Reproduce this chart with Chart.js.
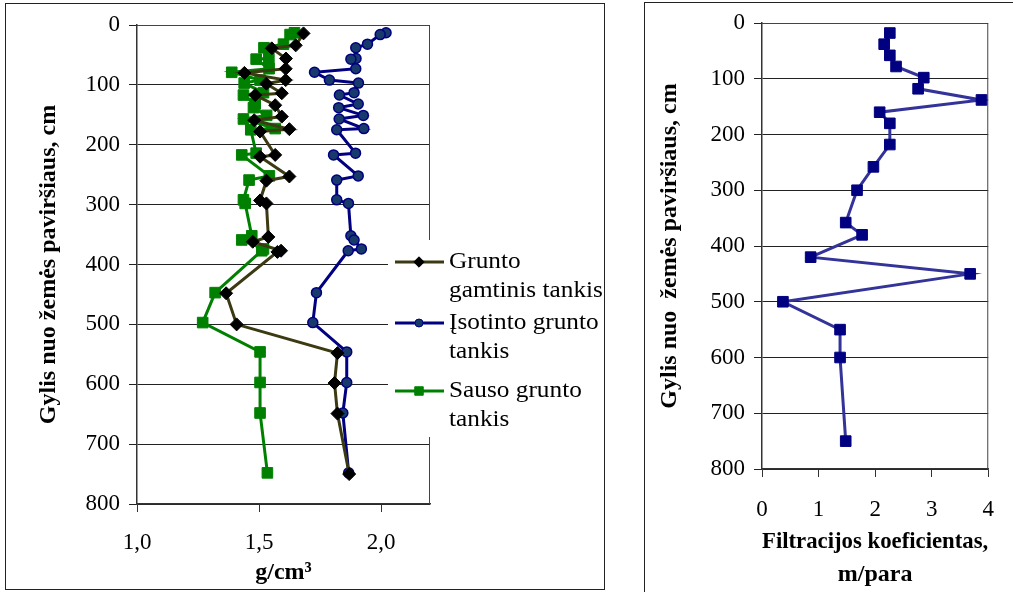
<!DOCTYPE html>
<html>
<head>
<meta charset="utf-8">
<script src="https://cdn.jsdelivr.net/npm/chart.js@4.4.1/dist/chart.umd.min.js"></script>
<style>
  body { margin: 0; background: #fff; width: 1013px; height: 592px; overflow: hidden; position: relative; }
  canvas { position: absolute; top: 0; }
  .frame { position: absolute; border: 1px solid #222; box-sizing: border-box; }
</style>
</head>
<body>
<div class="frame" style="left:5px;top:3px;width:600px;height:587px"></div>
<div class="frame" style="left:644px;top:2px;width:400px;height:600px"></div>
<canvas id="density" width="610" height="592" style="left:0"></canvas>
<canvas id="filtration" width="403" height="592" style="left:610px"></canvas>
<script>
const serif = "'Liberation Serif', 'Times New Roman', serif";
Chart.defaults.font.family = serif;
Chart.defaults.font.size = 23;
Chart.defaults.color = '#000';

// gylis, cm (isotinto ir sauso grunto meginiai)
const sampleDepth = [13, 16, 32, 38, 56, 57, 73, 79, 92, 97, 113, 117, 132, 138, 151, 157, 173, 175,
                     214, 217, 252, 259, 292, 298, 352, 359, 374, 377, 447, 497, 546, 597, 648, 748];
const saturatedDensity = [2.02, 1.996, 1.944, 1.896, 1.897, 1.876, 1.896, 1.727, 1.788, 1.907, 1.889, 1.829,
                          1.906, 1.826, 1.927, 1.828, 1.929, 1.818, 1.895, 1.805, 1.906, 1.818, 1.818, 1.866,
                          1.876, 1.889, 1.919, 1.865, 1.735, 1.72, 1.859, 1.859, 1.843, 1.867];
const dryDensity = [1.645, 1.627, 1.6, 1.52, 1.54, 1.488, 1.541, 1.388, 1.504, 1.439, 1.518, 1.436,
                    1.484, 1.477, 1.531, 1.436, 1.566, 1.466, 1.488, 1.429, 1.542, 1.459, 1.436, 1.443,
                    1.47, 1.429, 1.518, 1.511, 1.32, 1.269, 1.504, 1.504, 1.504, 1.534];

// gamtinis tankis
const naturalDepth = [14, 34, 39, 56, 73, 80, 92, 98, 114, 117, 134, 153, 159, 174, 178, 217, 220,
                      253, 260, 293, 298, 354, 362, 377, 379, 448, 500, 548, 598, 649, 750];
const naturalDensity = [1.682, 1.65, 1.552, 1.61, 1.609, 1.44, 1.609, 1.53, 1.593, 1.484, 1.566, 1.593,
                        1.48, 1.624, 1.504, 1.566, 1.504, 1.624, 1.53, 1.504, 1.53, 1.538, 1.474, 1.59,
                        1.575, 1.365, 1.408, 1.821, 1.809, 1.821, 1.869];

// filtracijos koeficientas, m/para
const filtDepth = [18, 38, 58, 78, 98, 118, 138, 160, 180, 218, 258, 300, 358, 380, 420, 450, 500, 550, 600, 750];
const filtCoef = [2.26, 2.16, 2.26, 2.37, 2.86, 2.76, 3.88, 2.08, 2.26, 2.26, 1.97, 1.68, 1.48, 1.77,
                  0.86, 3.68, 0.37, 1.38, 1.38, 1.48];

const densityTicks = [1.0, 1.5, 2.0];
const depthTicks = [0, 100, 200, 300, 400, 500, 600, 700, 800];
const filtTicks = [0, 1, 2, 3, 4];

const legendLines = [['Grunto', 'gamtinis tankis'], ['Įsotinto grunto', 'tankis'], ['Sauso grunto', 'tankis']];

const pairs = (xs, ys) => xs.map((x, i) => ({ x, y: ys[i] }));
const fixTicks = (list) => (s) => { s.ticks = list.map(v => ({ value: v })); };

// top and right edges of the plot area
const plotFrame = {
    id: 'plotFrame',
    beforeDatasetsDraw(chart) {
        const { ctx, chartArea: a } = chart;
        ctx.save();
        ctx.strokeStyle = '#444';
        ctx.lineWidth = 1;
        ctx.beginPath();
        ctx.moveTo(a.left, a.top + 0.5);
        ctx.lineTo(a.right - 0.5, a.top + 0.5);
        ctx.lineTo(a.right - 0.5, a.bottom);
        ctx.stroke();
        ctx.restore();
    }
};

// legend box sitting over the right side of the plot
const sideLegend = {
    id: 'sideLegend',
    afterDraw(chart) {
        const ctx = chart.ctx;
        const rowY = [262, 323, 391];
        ctx.save();
        ctx.fillStyle = '#fff';
        ctx.fillRect(388, 240, 215, 197);
        ctx.textBaseline = 'middle';
        chart.data.datasets.forEach((ds, i) => {
            const y = rowY[i];
            ctx.strokeStyle = ds.borderColor;
            ctx.lineWidth = 3;
            ctx.beginPath();
            ctx.moveTo(395, y);
            ctx.lineTo(444, y);
            ctx.stroke();
            ctx.fillStyle = ds.pointBackgroundColor;
            ctx.strokeStyle = ds.pointBorderColor;
            ctx.lineWidth = 1;
            Chart.helpers.drawPoint(ctx, { pointStyle: ds.pointStyle, radius: ds.pointRadius * 0.8, rotation: 0, borderWidth: 1 }, 419, y);
            // the legend text runs a little wide
            ctx.save();
            ctx.translate(449, y);
            ctx.scale(1.1, 1);
            ctx.font = '23px ' + serif;
            ctx.fillStyle = '#000';
            legendLines[i].forEach((t, j) => ctx.fillText(t, 0, j * 29));
            ctx.restore();
        });
        ctx.restore();
    }
};

const depthAxis = (width, title) => ({
    type: 'linear', reverse: true, min: 0, max: 800,
    afterBuildTicks: fixTicks(depthTicks),
    afterFit: (s) => { s.width = width; },
    ticks: { padding: 9 },
    grid: { color: '#222', lineWidth: 1, tickLength: 8 },
    border: { color: '#333', width: 1.5 },
    title: { display: true, text: title, font: { weight: 'bold', size: 24 }, padding: { top: 4, bottom: 0 } }
});

new Chart(document.getElementById('density'), {
    type: 'scatter',
    data: {
        datasets: [
            {
                label: 'Grunto gamtinis tankis', data: pairs(naturalDensity, naturalDepth), showLine: true,
                borderColor: '#3b3a12', borderWidth: 3, pointStyle: 'rectRot', pointRadius: 6.5,
                pointBackgroundColor: '#000', pointBorderColor: '#000', pointBorderWidth: 1
            },
            {
                label: 'Įsotinto grunto tankis', data: pairs(saturatedDensity, sampleDepth), showLine: true,
                borderColor: '#000080', borderWidth: 3, pointStyle: 'circle', pointRadius: 5,
                pointBackgroundColor: '#173a6b', pointBorderColor: '#000080', pointBorderWidth: 1.5
            },
            {
                label: 'Sauso grunto tankis', data: pairs(dryDensity, sampleDepth), showLine: true,
                borderColor: '#008000', borderWidth: 3, pointStyle: 'rect', pointRadius: 7.5,
                pointBackgroundColor: '#008000', pointBorderColor: '#008000', pointBorderWidth: 1
            }
        ]
    },
    options: {
        responsive: false, animation: false, devicePixelRatio: 1,
        layout: { padding: { left: 30, top: 25, right: 180, bottom: 0 } },
        plugins: { legend: { display: false }, tooltip: { enabled: false } },
        scales: {
            x: {
                type: 'linear', min: 1, max: 2.2,
                afterBuildTicks: fixTicks(densityTicks),
                afterFit: (s) => { s.height = 88; },
                ticks: { padding: 17, callback: (v) => v.toFixed(1).replace('.', ',') },
                grid: { drawOnChartArea: false, tickLength: 8, color: '#333' },
                border: { color: '#333', width: 1.5 },
                title: { display: true, text: 'g/cm³', font: { weight: 'bold', size: 24 }, padding: { top: 0, bottom: 5 } }
            },
            y: depthAxis(107, 'Gylis nuo žemės paviršiaus, cm')
        }
    },
    plugins: [plotFrame, sideLegend]
});

new Chart(document.getElementById('filtration'), {
    type: 'scatter',
    data: {
        datasets: [{
            label: 'Filtracijos koeficientas', data: pairs(filtCoef, filtDepth), showLine: true,
            borderColor: '#333399', borderWidth: 3, pointStyle: 'rect', pointRadius: 7.5,
            pointBackgroundColor: '#000080', pointBorderColor: '#000080', pointBorderWidth: 1
        }]
    },
    options: {
        responsive: false, animation: false, devicePixelRatio: 1,
        layout: { padding: { left: 41, top: 23, right: 22, bottom: 0 } },
        plugins: { legend: { display: false }, tooltip: { enabled: false } },
        scales: {
            x: {
                type: 'linear', min: 0, max: 4,
                afterBuildTicks: fixTicks(filtTicks),
                afterFit: (s) => { s.height = 123; },
                ticks: { padding: 19 },
                grid: { drawOnChartArea: false, tickLength: 8, color: '#333' },
                border: { color: '#333', width: 1.5 },
                title: {
                    display: true, text: ['Filtracijos koeficientas,', 'm/para'],
                    font: { weight: 'bold', size: 24, lineHeight: 1.375 }, padding: { top: 0, bottom: 1 }
                }
            },
            y: depthAxis(111, 'Gylis nuo  žemės paviršiaus, cm')
        }
    },
    plugins: [plotFrame]
});
</script>
</body>
</html>
